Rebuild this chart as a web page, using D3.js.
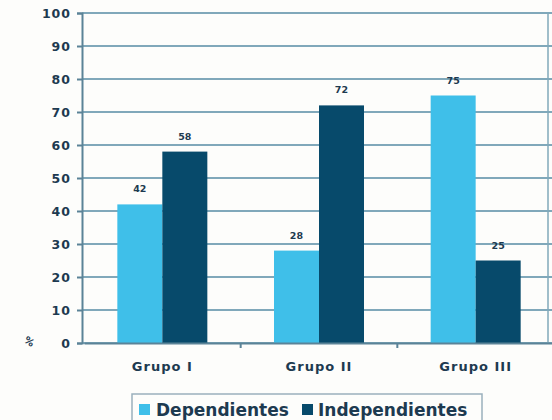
<!DOCTYPE html>
<html>
<head>
<meta charset="utf-8">
<script src="https://cdn.jsdelivr.net/npm/d3@7"></script>
<style>
  html, body { margin: 0; padding: 0; background: #fdfdfb; }
  svg { display: block; }
  text { font-family: "DejaVu Sans", Verdana, sans-serif; font-weight: bold; fill: #1d3a50; }
</style>
</head>
<body>
<svg id="chart" width="552" height="420"></svg>
<script>
// Percentage of each group by dependency status
const categories = ["Grupo I", "Grupo II", "Grupo III"];
const seriesNames = ["Dependientes", "Independientes"];
const dependientes = [42, 28, 75];
const independientes = [58, 72, 25];
const yTicks = [0, 10, 20, 30, 40, 50, 60, 70, 80, 90, 100];

const colors = { Dependientes: "#3fbfe9", Independientes: "#074a6b" };
const gridColor = "#80a8ba";
const axisColor = "#5b8397";
const fontFamily = "'DejaVu Sans', Verdana, sans-serif";

const svg = d3.select("#chart");
const plot = { left: 82, right: 552, top: 13, bottom: 343 };

const x = d3.scaleBand().domain(categories).range([plot.left + 2, plot.right + 2]);
const xInner = d3.scaleBand().domain(seriesNames)
  .range([x.bandwidth() / 2 - 45, x.bandwidth() / 2 + 45]);
const y = d3.scaleLinear().domain([0, 100]).range([plot.bottom, plot.top]);

// horizontal gridlines
svg.append("g").selectAll("line").data(yTicks).join("line")
  .attr("x1", plot.left).attr("x2", plot.right)
  .attr("y1", d => y(d)).attr("y2", d => y(d))
  .attr("stroke", gridColor).attr("stroke-width", 2);

// right border of the plot area
svg.append("line")
  .attr("x1", 548).attr("x2", 548).attr("y1", plot.top).attr("y2", plot.bottom)
  .attr("stroke", gridColor).attr("stroke-width", 1.5);

// y axis
const yAxis = d3.axisLeft(y).tickValues(yTicks).tickSize(5).tickPadding(7);
const gy = svg.append("g").attr("transform", `translate(${plot.left},0)`).call(yAxis);
gy.select(".domain").attr("stroke", axisColor).attr("stroke-width", 2);
gy.selectAll(".tick line").attr("stroke", axisColor).attr("stroke-width", 2);
gy.selectAll(".tick text").attr("font-size", 12.5).style("font-weight", "bold")
  .style("letter-spacing", "1px").attr("dx", 1)
  .style("font-family", fontFamily).attr("fill", "#1d3a50");

// bars
const rows = categories.map((c, i) => ({ cat: c, values: [
  { key: "Dependientes", value: dependientes[i] },
  { key: "Independientes", value: independientes[i] }
]}));

const groups = svg.append("g").selectAll("g").data(rows).join("g")
  .attr("transform", d => `translate(${x(d.cat)},0)`);

groups.selectAll("rect").data(d => d.values).join("rect")
  .attr("x", d => xInner(d.key))
  .attr("width", xInner.bandwidth())
  .attr("y", d => y(d.value))
  .attr("height", d => y(0) - y(d.value))
  .attr("fill", d => colors[d.key]);

groups.selectAll("text").data(d => d.values).join("text")
  .attr("x", d => xInner(d.key) + xInner.bandwidth() / 2)
  .attr("y", d => y(d.value) - 12)
  .attr("text-anchor", "middle")
  .attr("font-size", 9.5)
  .text(d => d.value);

// x axis
const xAxis = d3.axisBottom(x).tickSize(0).tickPadding(19);
const gx = svg.append("g").attr("transform", `translate(0,${plot.bottom})`).call(xAxis);
gx.select(".domain").attr("stroke", axisColor).attr("stroke-width", 2);
gx.selectAll(".tick text").attr("font-size", 13).style("font-weight", "bold")
  .style("letter-spacing", "1px")
  .style("font-family", fontFamily).attr("fill", "#1d3a50");

// small separators between categories
svg.append("g").selectAll("line").data(categories.slice(1)).join("line")
  .attr("x1", d => x(d)).attr("x2", d => x(d))
  .attr("y1", plot.bottom).attr("y2", plot.bottom + 5)
  .attr("stroke", axisColor).attr("stroke-width", 2);

// axis unit
svg.append("text").attr("x", 29).attr("y", 345)
  .attr("font-size", 10).attr("text-anchor", "middle")
  .attr("transform", "rotate(35,29,342)").text("%");

// legend
const legend = svg.append("g");
legend.append("rect").attr("x", 132).attr("y", 394).attr("width", 350).attr("height", 40)
  .attr("fill", "none").attr("stroke", "#9ab0bd").attr("stroke-width", 1.5);
const legendItems = [
  { key: "Dependientes", sx: 139, tx: 156 },
  { key: "Independientes", sx: 302, tx: 318 }
];
legendItems.forEach(it => {
  legend.append("rect").attr("x", it.sx).attr("y", 404).attr("width", 11).attr("height", 11)
    .attr("fill", colors[it.key]);
  legend.append("text").attr("x", it.tx).attr("y", 416).attr("font-size", 17).text(it.key);
});
</script>
</body>
</html>
